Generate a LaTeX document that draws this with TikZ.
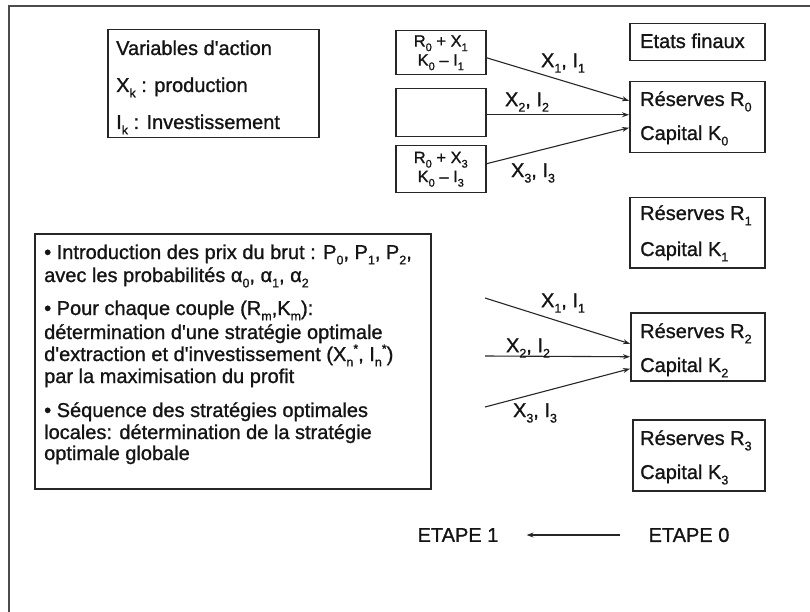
\documentclass[tikz,border=0pt]{standalone}
\usepackage{fontspec}
\newfontfamily\lib{Liberation Sans}[FakeBold=1.1]
\usetikzlibrary{arrows.meta}
\newcommand{\sbx}[1]{\raisebox{-0.27em}{\fontsize{12.5}{12.5}\selectfont #1}}
\newcommand{\sbs}[1]{\raisebox{-0.27em}{\fontsize{11}{11}\selectfont #1}}
\newcommand{\spx}[1]{\raisebox{0.4em}{\fontsize{12.5}{12.5}\selectfont #1}}
\begin{document}
\begin{tikzpicture}[x=1pt,y=-1pt,
  ink/.style={draw=black!85, line width=1.5pt},
  box/.style={ink, rectangle, inner sep=0pt, anchor=north west},
  txt/.style={font=\lib\fontsize{20}{22}\selectfont, inner sep=0pt, anchor=base west, text=black!92},
  smalltxt/.style={font=\lib\fontsize{16.5}{19}\selectfont, align=center, text=black!92},
  arr/.style={draw=black!85, line width=1.1pt, -{Stealth[length=7pt,width=5pt]}},
  lbl/.style={font=\lib\fontsize{20}{22}\selectfont, inner sep=0pt, text=black!92}]
\useasboundingbox (0,0) rectangle (810,612);
% outer frame (only top and left visible)
\draw[draw=black!70, line width=1.8pt] (9,612) -- (9,6) -- (810,6);

% Variables d'action box
\node[box, minimum width=211pt, minimum height=108pt] (var) at (107,29) {};
\node[txt] (v1) at (116,55) {Variables d'action};
\node[txt] (v2) at (116,92) {X\sbx{k} : production};
\node[txt] (v3) at (116,129) {I\sbx{k} : Investissement};

% small boxes
\node[box, minimum width=90pt, minimum height=44pt, smalltxt] (A) at (395,30) {R\sbs{0} + X\sbs{1}\\K\sbs{0} – I\sbs{1}};
\node[box, minimum width=90pt, minimum height=48pt] (B) at (395,88) {};
\node[box, minimum width=90pt, minimum height=47pt, smalltxt] (C) at (395,145) {R\sbs{0} + X\sbs{3}\\K\sbs{0} – I\sbs{3}};

% right column
\node[box, minimum width=135pt, minimum height=37pt] (EF) at (629,23) {};
\node[txt] (ef) at (640,48) {Etats finaux};
\node[box, minimum width=135pt, minimum height=71pt] (R0) at (629,81) {};
\node[txt] (r0a) at (640,106) {Réserves R\sbx{0}};
\node[txt] (r0b) at (640,140) {Capital K\sbx{0}};
\node[box, minimum width=135pt, minimum height=70pt] (R1) at (629,197) {};
\node[txt] (r1a) at (640,220) {Réserves R\sbx{1}};
\node[txt] (r1b) at (640,256) {Capital K\sbx{1}};
\node[box, minimum width=134pt, minimum height=68pt] (R2) at (630,312) {};
\node[txt] (r2a) at (640,338) {Réserves R\sbx{2}};
\node[txt] (r2b) at (640,372) {Capital K\sbx{2}};
\node[box, minimum width=132pt, minimum height=71pt] (R3) at (632,419) {};
\node[txt] (r3a) at (640,445) {Réserves R\sbx{3}};
\node[txt] (r3b) at (640,479) {Capital K\sbx{3}};

% top arrows
\draw[arr] ([yshift=-5pt]A.east) -- ([yshift=16.5pt]R0.west);
\draw[arr] ([yshift=-2pt]B.east) -- ([yshift=2.5pt]R0.west);
\draw[arr] ([yshift=5.5pt]C.east) -- ([yshift=-10.5pt]R0.west);
\node[lbl] (l1) at (563,63) {X\sbx{1}, I\sbx{1}};
\node[lbl] (l2) at (527,102) {X\sbx{2}, I\sbx{2}};
\node[lbl] (l3) at (533,173) {X\sbx{3}, I\sbx{3}};

% lower arrows
\coordinate (s1) at (485,298);
\coordinate (s2) at (485,356);
\coordinate (s3) at (485,407);
\draw[arr] (s1) -- ([yshift=3pt]R2.west);
\draw[arr] (s2) -- ([yshift=-10pt]R2.west);
\draw[arr] (s3) -- ([yshift=-22pt]R2.west);
\node[lbl] (m1) at (563,303) {X\sbx{1}, I\sbx{1}};
\node[lbl] (m2) at (528,348) {X\sbx{2}, I\sbx{2}};
\node[lbl] (m3) at (535,413) {X\sbx{3}, I\sbx{3}};

% big box
\node[box, minimum width=396pt, minimum height=255pt] (big) at (34,233) {};
\node[txt] (p1) at (44,259) {• Introduction des prix du brut : P\sbx{0}, P\sbx{1}, P\sbx{2},};
\node[txt] (p2) at (44,282) {avec les probabilités α\sbx{0}, α\sbx{1}, α\sbx{2}};
\node[txt] (p3) at (44,315) {• Pour chaque couple (R\sbx{m},K\sbx{m}):};
\node[txt] (p4) at (44,339) {détermination d'une stratégie optimale};
\node[txt] (p5) at (44,361) {d'extraction et d'investissement (X\sbx{n}\spx{*}, I\sbx{n}\spx{*})};
\node[txt] (p6) at (44,383) {par la maximisation du profit};
\node[txt] (p7) at (44,417) {• Séquence des stratégies optimales};
\node[txt] (p8) at (44,439) {locales: détermination de la stratégie};
\node[txt] (p9) at (44,460) {optimale globale};

% ETAPE
\node[lbl] (E1) at (458,535) {ETAPE 1};
\node[lbl] (E0) at (689,535) {ETAPE 0};
\draw[arr, shorten >=28pt, shorten <=28pt] (E0.west) -- (E1.east);
\end{tikzpicture}
\end{document}
